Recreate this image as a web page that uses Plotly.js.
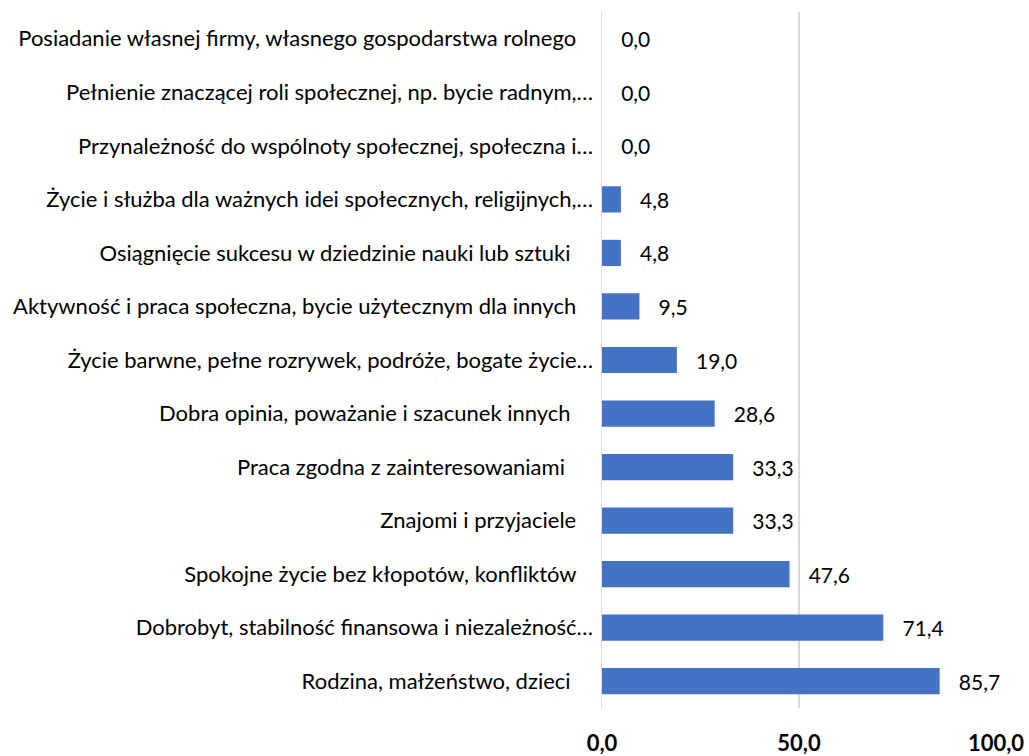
<!DOCTYPE html>
<html>
<head>
<meta charset="utf-8">
<script src="https://cdn.plot.ly/plotly-3.0.1.min.js"></script>
<style>
  html, body { margin: 0; padding: 0; background: #fff; }
  #chart { width: 1029px; height: 756px; }
</style>
</head>
<body>
<div id="chart"></div>
<script>
// Categories, top to bottom as displayed
const categories = [
  "Posiadanie własnej firmy, własnego gospodarstwa rolnego",
  "Pełnienie znaczącej roli społecznej, np. bycie radnym,…",
  "Przynależność do wspólnoty społecznej, społeczna i…",
  "Życie i służba dla ważnych idei społecznych, religijnych,…",
  "Osiągnięcie sukcesu w dziedzinie nauki lub sztuki",
  "Aktywność i praca społeczna, bycie użytecznym dla innych",
  "Życie barwne, pełne rozrywek, podróże, bogate życie…",
  "Dobra opinia, poważanie i szacunek innych",
  "Praca zgodna z zainteresowaniami",
  "Znajomi i przyjaciele",
  "Spokojne życie bez kłopotów, konfliktów",
  "Dobrobyt, stabilność finansowa i niezależność…",
  "Rodzina, małżeństwo, dzieci"
];
// trailing padding (number of non-breaking spaces) after each label, as in the original
const labelPad = [3, 0, 0, 0, 4, 3, 0, 4, 5, 3, 3, 0, 4];
const values = [0.0, 0.0, 0.0, 4.8, 4.8, 9.5, 19.0, 28.6, 33.3, 33.3, 47.6, 71.4, 85.7];
const xTickVals = [0, 50, 100];
const xTickText = ["0,0", "50,0", "100,0"];

const NB = "\u00a0";
const tickLabels = categories.map((c, i) => c + NB.repeat(labelPad[i]));
const valueText = values.map(v => NB + NB + NB + v.toFixed(1).replace(".", ","));

const FONT = "Lato, 'Open Sans', sans-serif";

const trace = {
  type: "bar",
  orientation: "h",
  x: values,
  y: tickLabels,
  marker: { color: "#4472C4", line: { width: 0 } },
  text: valueText,
  textposition: "outside",
  constraintext: "none",
  cliponaxis: false,
  textfont: { family: FONT, size: 21, color: "#000" },
  hoverinfo: "skip"
};

const layout = {
  width: 1029,
  height: 756,
  margin: { l: 601.5, r: 33, t: 12, b: 48, pad: 0 },
  paper_bgcolor: "#fff",
  plot_bgcolor: "#fff",
  showlegend: false,
  bargap: 0.51,
  font: { family: FONT, size: 22, color: "#000" },
  xaxis: {
    range: [0, 100],
    tickvals: xTickVals,
    ticktext: xTickText,
    tickfont: { family: FONT, size: 22, color: "#000", weight: "bold" },
    showgrid: true,
    gridcolor: "#D9D9D9",
    gridwidth: 1.5,
    zeroline: false,
    showline: false,
    ticks: "outside",
    ticklen: 16,
    tickcolor: "rgba(0,0,0,0)",
    automargin: false,
    fixedrange: true
  },
  yaxis: {
    type: "category",
    autorange: "reversed",
    tickfont: { family: FONT, size: 22, color: "#000" },
    showgrid: false,
    zeroline: false,
    showline: true,
    linecolor: "#D9D9D9",
    linewidth: 1.5,
    ticks: "outside",
    ticklen: 3,
    tickcolor: "rgba(0,0,0,0)",
    automargin: false,
    fixedrange: true
  }
};

Plotly.newPlot("chart", [trace], layout, { displayModeBar: false, staticPlot: true });
</script>
</body>
</html>
